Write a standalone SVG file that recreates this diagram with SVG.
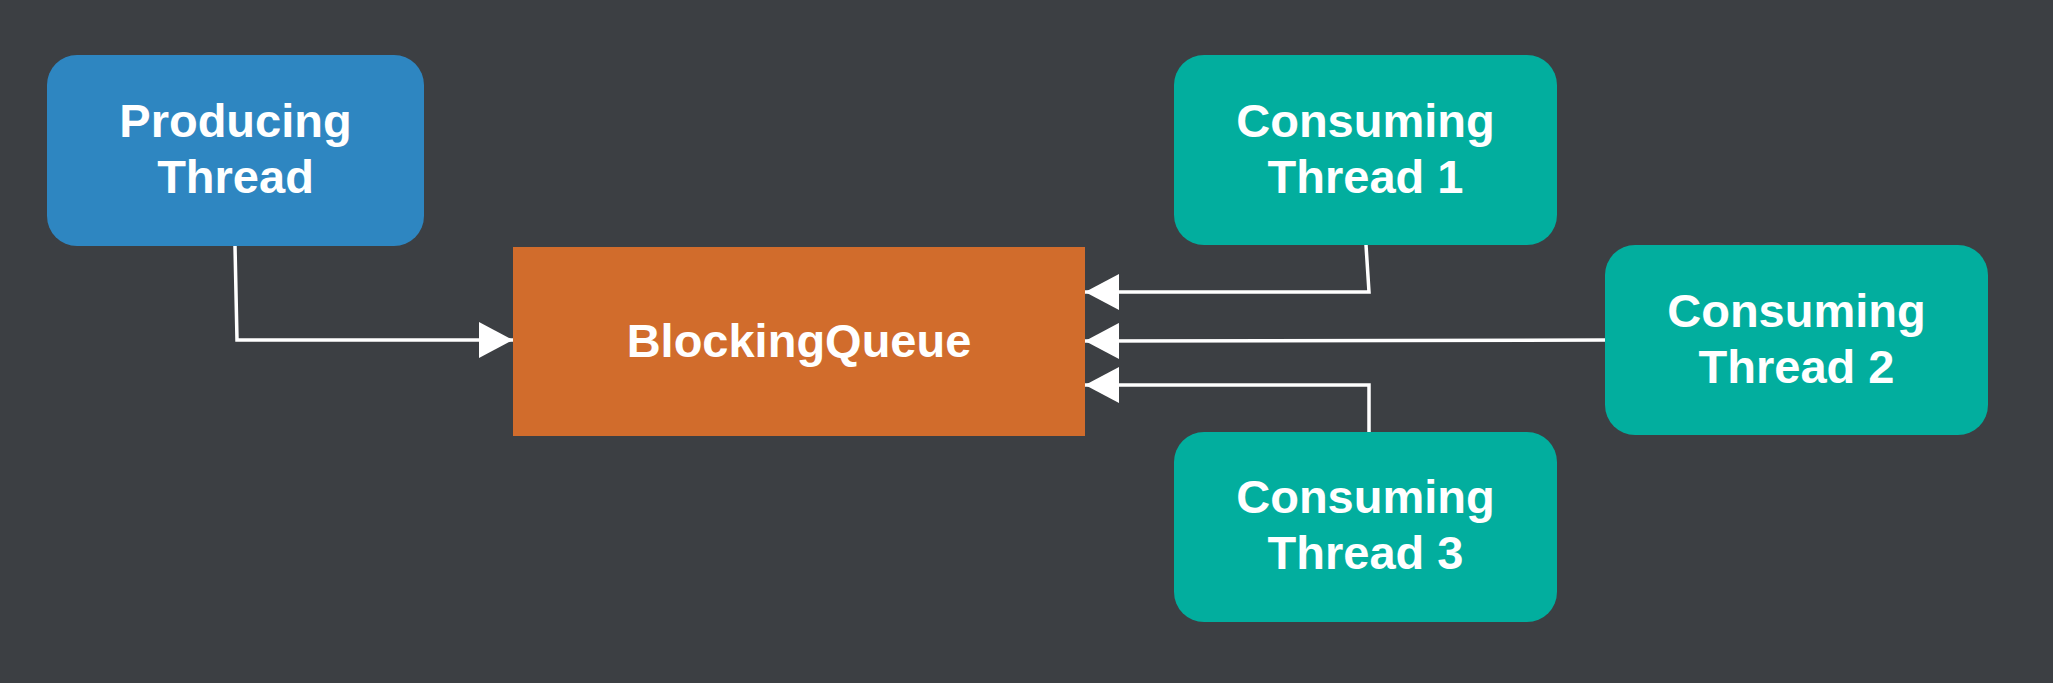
<svg xmlns="http://www.w3.org/2000/svg" width="2053" height="683" viewBox="0 0 2053 683">
  <defs>
    <marker id="arrow" markerUnits="userSpaceOnUse" markerWidth="34" markerHeight="36" refX="34" refY="18" orient="auto">
      <path d="M0,0 L34,18 L0,36 Z" fill="#ffffff"/>
    </marker>
    <style>
      .lbl { font-family: "Liberation Sans", Arial, sans-serif; font-weight: bold; font-size: 47px; fill: #ffffff; text-anchor: middle; }
      .edge { fill: none; stroke: #ffffff; stroke-width: 3.5; marker-end: url(#arrow); }
      .prod { fill: #2e86c1; }
      .queue { fill: #d16c2c; }
      .cons { fill: #02ae9e; }
    </style>
  </defs>
  <rect x="0" y="0" width="2053" height="683" fill="#3c3f43"/>

  <g id="connectors">
    <polyline class="edge" points="235,246 237,340 513,340"/>
    <polyline class="edge" points="1366,245 1369,292 1085,292"/>
    <polyline class="edge" points="1605,340 1085,341"/>
    <polyline class="edge" points="1369,432 1369,385 1085,385"/>
  </g>

  <g id="producing-thread">
    <rect class="prod" x="47" y="55" width="377" height="191" rx="30" ry="30"/>
    <text class="lbl" x="235.5" y="137">Producing</text>
    <text class="lbl" x="235.5" y="193">Thread</text>
  </g>

  <g id="blocking-queue">
    <rect class="queue" x="513" y="247" width="572" height="189"/>
    <text class="lbl" x="799" y="357">BlockingQueue</text>
  </g>

  <g id="consuming-thread-1">
    <rect class="cons" x="1174" y="55" width="383" height="190" rx="30" ry="30"/>
    <text class="lbl" x="1365.5" y="137">Consuming</text>
    <text class="lbl" x="1365.5" y="193">Thread 1</text>
  </g>

  <g id="consuming-thread-2">
    <rect class="cons" x="1605" y="245" width="383" height="190" rx="30" ry="30"/>
    <text class="lbl" x="1796.5" y="327">Consuming</text>
    <text class="lbl" x="1796.5" y="383">Thread 2</text>
  </g>

  <g id="consuming-thread-3">
    <rect class="cons" x="1174" y="432" width="383" height="190" rx="30" ry="30"/>
    <text class="lbl" x="1365.5" y="513">Consuming</text>
    <text class="lbl" x="1365.5" y="569">Thread 3</text>
  </g>
</svg>
